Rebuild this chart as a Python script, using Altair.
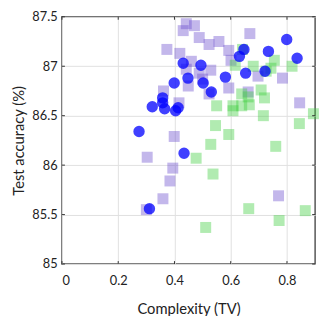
import altair as alt
import pandas as pd

# Blue circles
blue_x = [0.431, 0.448, 0.399, 0.358, 0.358, 0.321, 0.365, 0.413, 0.404, 0.274, 0.434, 0.311,
          0.799, 0.647, 0.631, 0.734, 0.836, 0.494, 0.653, 0.722, 0.581, 0.502, 0.531]
blue_y = [87.03, 86.88, 86.83, 86.68, 86.63, 86.59, 86.57, 86.58, 86.55, 86.34, 86.12, 85.56,
          87.27, 87.17, 87.10, 87.15, 87.08, 87.01, 86.93, 86.95, 86.89, 86.83, 86.74]

# Purple squares
purple_x = [0.442, 0.471, 0.431, 0.488, 0.373, 0.419, 0.460, 0.442, 0.449, 0.361, 0.416, 0.399,
            0.303, 0.394, 0.384, 0.359, 0.300, 0.523, 0.558, 0.668, 0.593, 0.601, 0.529, 0.697,
            0.784, 0.500, 0.593, 0.523, 0.662, 0.845, 0.770, 0.488]
purple_y = [87.43, 87.41, 87.36, 87.29, 87.17, 87.13, 87.05, 86.97, 86.80, 86.75, 86.63, 86.29,
            86.08, 85.97, 85.84, 85.66, 85.55, 87.22, 87.25, 87.33, 87.16, 87.06, 86.96, 86.90,
            86.88, 86.87, 86.78, 86.72, 86.74, 86.63, 85.69, 86.93]

# Green squares
green_x = [0.642, 0.755, 0.743, 0.818, 0.726, 0.616, 0.680, 0.708, 0.720, 0.639, 0.662, 0.666,
           0.639, 0.608, 0.608, 0.550, 0.716, 0.844, 0.894, 0.546, 0.593, 0.529, 0.477, 0.537,
           0.760, 0.664, 0.865, 0.772, 0.511]
green_y = [87.17, 87.06, 86.98, 87.00, 86.95, 87.01, 87.00, 86.76, 86.68, 86.72, 86.69, 86.61,
           86.60, 86.60, 86.55, 86.60, 86.50, 86.42, 86.52, 86.40, 86.31, 86.21, 86.07, 85.91,
           86.19, 85.56, 85.54, 85.44, 85.37]

x_ticks = [0, 0.2, 0.4, 0.6, 0.8]
y_ticks = [85, 85.5, 86, 86.5, 87, 87.5]

W, H = 258, 252
FONT = "Lato"

xenc = alt.X("x:Q", scale=alt.Scale(domain=[0, 0.9], nice=False, zero=False),
             axis=alt.Axis(values=x_ticks, title="Complexity (TV)", labelExpr="datum.value == 0 ? '0' : format(datum.value, '.1f')"))
yenc = alt.Y("y:Q", scale=alt.Scale(domain=[85, 87.5], nice=False, zero=False),
             axis=alt.Axis(values=y_ticks, title="Test accuracy (%)", labelExpr="format(datum.value, '')"))

df_p = pd.DataFrame({"x": purple_x, "y": purple_y})
df_g = pd.DataFrame({"x": green_x, "y": green_y})
df_b = pd.DataFrame({"x": blue_x, "y": blue_y})
df_xt = pd.DataFrame({"x": x_ticks})
df_yt = pd.DataFrame({"y": y_ticks})

purple = alt.Chart(df_p).mark_square(size=125, color="#6a4ccc", opacity=0.4).encode(x=xenc, y=yenc)
green = alt.Chart(df_g).mark_square(size=125, color="#3ccc3c", opacity=0.4).encode(x=xenc, y=yenc)
blue = alt.Chart(df_b).mark_circle(size=135, color="#0000ff", opacity=0.75).encode(x=xenc, y=yenc)

tick_col = "#333333"
yt_left = alt.Chart(df_yt).mark_rule(color=tick_col, strokeWidth=1).encode(
    y=yenc, x=alt.value(0), x2=alt.value(3))
yt_right = alt.Chart(df_yt).mark_rule(color=tick_col, strokeWidth=1).encode(
    y=yenc, x=alt.value(W - 3), x2=alt.value(W))
xt_bot = alt.Chart(df_xt).mark_rule(color=tick_col, strokeWidth=1).encode(
    x=xenc, y=alt.value(H - 3), y2=alt.value(H))
xt_top = alt.Chart(df_xt).mark_rule(color=tick_col, strokeWidth=1).encode(
    x=xenc, y=alt.value(0), y2=alt.value(3))

chart = alt.layer(purple, green, blue, yt_left, yt_right, xt_bot, xt_top).properties(
    width=W, height=H,
    autosize=alt.AutoSizeParams(type="none"),
    padding={"left": 55, "top": 6, "right": 6, "bottom": 50},
).configure_view(
    stroke="#555555", strokeWidth=1.5
).configure_axis(
    domain=False, ticks=False, grid=True, gridColor="#e0e0e0", gridWidth=1,
    labelFont=FONT, titleFont=FONT, labelFontSize=13, titleFontSize=15,
    labelColor="#222222", titleColor="#222222", titleFontWeight="normal",
).configure_axisX(labelPadding=11, titlePadding=14).configure_axisY(labelPadding=5, titlePadding=6)

chart.save("out.html", embed_options={"renderer": "svg", "actions": False})
